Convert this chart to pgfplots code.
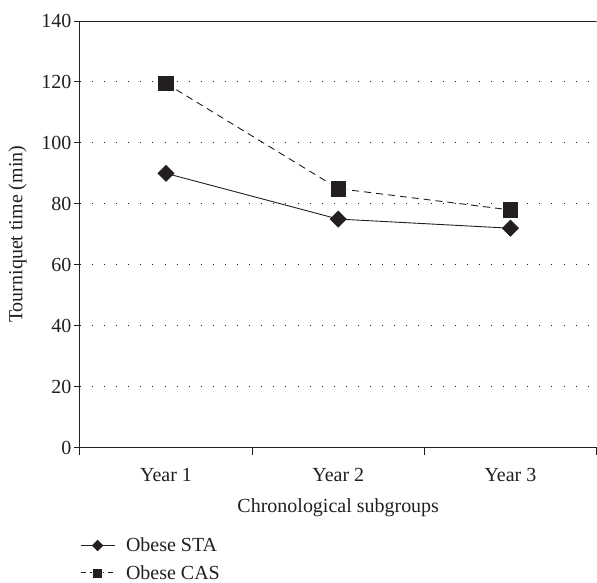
\documentclass[border=0pt]{standalone}
\usepackage{fontspec}
\setmainfont{Liberation Serif}
\usepackage{pgfplots}
\pgfplotsset{compat=1.18}
\definecolor{ink}{HTML}{231F20}
\begin{document}
\begin{tikzpicture}
\begin{axis}[
  scale only axis,
  width=517pt, height=427pt,
  xmin=0.5, xmax=3.5,
  ymin=0, ymax=140,
  axis x line*=bottom,
  axis y line*=left,
  axis line style={ink, line width=0.9pt, -},
  xtick={1,2,3},
  xticklabels={Year 1, Year 2, Year 3},
  minor xtick={0.5,1.5,2.5,3.5},
  major x tick style={draw=none},
  minor tick length=7pt,
  major tick length=6pt,
  tick align=outside,
  tick style={ink, line width=0.9pt},
  ytick={0,20,...,120},
  extra y ticks={140},
  extra y tick style={grid=none},
  ymajorgrids,
  major grid style={ink, line width=0.9pt, dash pattern=on 0.9pt off 11.2pt},
  /pgf/number format/assume math mode=true,
  tick label style={font=\fontsize{20}{22}\selectfont, text=ink},
  xticklabel style={yshift=-11pt},
  yticklabel style={xshift=1pt},
  label style={font=\fontsize{20}{22}\selectfont, text=ink},
  xlabel={Chronological subgroups},
  ylabel={Tourniquet time (min)},
  xlabel style={yshift=-10pt},
  ylabel style={yshift=-4pt},
  legend style={at={(axis description cs:0,0)}, anchor=north west, yshift=-88pt,
    draw=none, fill=none, font=\fontsize{20}{22}\selectfont, text=ink,
    row sep=8pt, inner sep=0pt,
    nodes={inner sep=2pt}},
  legend cell align=left,
  legend image code/.code={
    \draw[mark repeat=2,mark phase=2,#1] plot coordinates {(0pt,0pt) (17pt,0pt) (34pt,0pt)};
  },
]
\addplot[forget plot, ink, line width=0.9pt, mark=square*, mark size=5.6pt, mark options={solid, rotate=45, fill=ink, draw=ink}]
  coordinates {(1,90) (2,75) (3,72)};
\addplot[forget plot, ink, line width=0.9pt, dash pattern=on 7pt off 5pt, mark=square*, mark size=8.3pt, mark options={solid, fill=ink, draw=white, line width=0.5pt}]
  coordinates {(1,119.5) (2,85) (3,78)};
\addlegendimage{ink, line width=0.9pt, mark=square*, mark size=3.6pt, mark options={solid, rotate=45, fill=ink, draw=ink}}
\addlegendentry{\hspace{9pt}Obese STA}
\addlegendimage{ink, line width=0.9pt, dash pattern=on 5pt off 4pt, mark=square*, mark size=5pt, mark options={solid, fill=ink, draw=white, line width=0.4pt}}
\addlegendentry{\hspace{9pt}Obese CAS}
\draw[ink, line width=0.9pt] (rel axis cs:0,1) -- (rel axis cs:1,1);
\end{axis}
\path ([xshift=-80pt,yshift=-134pt]current axis.south west) rectangle ([yshift=21pt]current axis.north east);
\end{tikzpicture}
\end{document}
